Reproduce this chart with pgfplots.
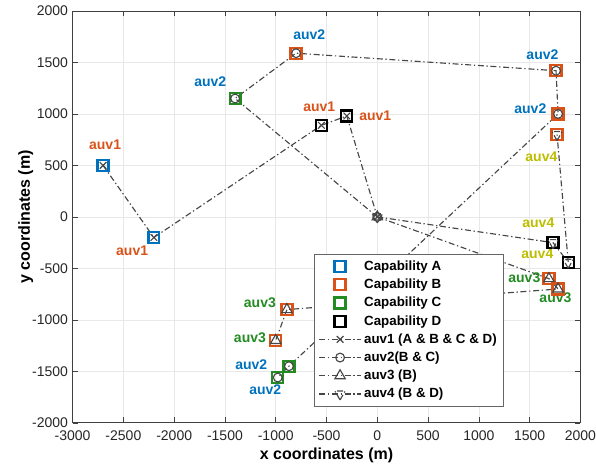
\documentclass[border=0pt]{standalone}
\usepackage{fontspec}
\setmainfont{Liberation Sans}
\usepackage{pgfplots}
\pgfplotsset{compat=1.18}
\definecolor{mblue}{RGB}{0,114,189}
\definecolor{morange}{RGB}{217,83,25}
\definecolor{mgreen}{RGB}{34,139,34}
\definecolor{myellow}{RGB}{190,190,0}
\definecolor{pathgray}{RGB}{70,70,70}
\pgfplotsset{
  mylegimg/.style={legend image code/.code={\draw[mark repeat=2,mark phase=2,##1] plot coordinates {(0cm,0cm)(0.55cm,0cm)(1.1cm,0cm)};}},
  capsq/.style={only marks, mark=square, mark size=4.1pt, line width=1.7pt, mylegimg},
  auvpath/.style={pathgray, line width=0.85pt, dash pattern=on 4.5pt off 2pt on 1pt off 2pt,
     mark options={solid, line width=0.85pt, pathgray}, mylegimg},
}
\begin{document}
\begin{tikzpicture}
\begin{axis}[
  width=381pt, height=309pt, scale only axis,
  xmin=-3000, xmax=2000, ymin=-2000, ymax=2000,
  xtick={-3000,-2500,...,2000}, ytick={-2000,-1500,...,2000},
  scaled ticks=false,
  /pgf/number format/assume math mode=true,
  /pgf/number format/1000 sep={},
  tick label style={font=\fontsize{10.5}{12}\selectfont, text=black!85},
  xticklabel style={yshift=-2.5pt, inner xsep=0pt},
  grid=major, grid style={gray!18, line width=0.5pt},
  tick align=inside, major tick length=4pt,
  axis line style={black!75, line width=0.6pt},
  every tick/.style={black!75},
  xlabel={\bfseries x coordinates (m)},
  ylabel={\bfseries y coordinates (m)},
  label style={font=\fontsize{12}{14}\selectfont},
  xlabel style={at={(axis description cs:0.5,-0.078)}, anchor=center},
  ylabel style={at={(axis description cs:-0.0925,0.5)}, anchor=center},
  mylegimg,
  legend style={at={(rel axis cs:0.476,0.039)}, anchor=south west,
     font=\bfseries\fontsize{10}{12}\selectfont, draw=black!60, fill=white,
     line width=0.5pt, row sep=0.9pt, inner xsep=3pt, inner ysep=3pt},
  legend cell align=left,
]
\addplot[capsq, mblue] coordinates {(-2700,500) (-2200,-200)};
\addlegendentry{Capability A}
\addplot[capsq, morange] coordinates {(-800,1590) (1760,1420) (1780,1000) (1770,800) (1690,-600) (1780,-700) (-890,-900) (-1000,-1200)};
\addlegendentry{Capability B}
\addplot[capsq, mgreen] coordinates {(-1400,1150) (-870,-1450) (-980,-1560)};
\addlegendentry{Capability C}
\addplot[capsq, black] coordinates {(-550,890) (-300,980) (1730,-250) (1880,-440)};
\addlegendentry{Capability D}
\addplot[auvpath, mark=x, mark size=3.5pt] coordinates {(-2700,500) (-2200,-200) (-550,890) (-300,980) (0,0)};
\addlegendentry{auv1 (A \& B \& C \& D)}
\addplot[auvpath, mark=o, mark size=3.3pt] coordinates {(0,0) (-1400,1150) (-800,1590) (1760,1420) (1780,1000) (-870,-1450) (-980,-1560)};
\addlegendentry{auv2(B \& C)}
\addplot[auvpath, mark=triangle, mark size=4.5pt] coordinates {(0,0) (1690,-600) (1780,-700) (-890,-900) (-1000,-1200)};
\addlegendentry{auv3 (B)}
\addplot[auvpath, mark=triangle, mark options={rotate=180}, mark size=4.5pt] coordinates {(0,0) (1730,-250) (1880,-440) (1770,800)};
\addlegendentry{auv4 (B \& D)}
\begin{scope}[every node/.style={font=\bfseries\fontsize{10.5}{12}\selectfont}]
\node[text=morange] at (axis cs:-2680,700) {auv1};
\node[text=morange] at (axis cs:-2414,-330) {auv1};
\node[text=morange] at (axis cs:-571,1068) {auv1};
\node[text=morange] at (axis cs:-20,981) {auv1};
\node[text=mblue] at (axis cs:-670,1767) {auv2};
\node[text=mblue] at (axis cs:-1645,1311) {auv2};
\node[text=mblue] at (axis cs:1626,1573) {auv2};
\node[text=mblue] at (axis cs:1507,1049) {auv2};
\node[text=mblue] at (axis cs:-1241,-1437) {auv2};
\node[text=mblue] at (axis cs:-1103,-1680) {auv2};
\node[text=myellow] at (axis cs:1616,583) {auv4};
\node[text=myellow] at (axis cs:1586,-58) {auv4};
\node[text=myellow] at (axis cs:1576,-359) {auv4};
\node[text=mgreen] at (axis cs:1448,-592) {auv3};
\node[text=mgreen] at (axis cs:1754,-786) {auv3};
\node[text=mgreen] at (axis cs:-1156,-837) {auv3};
\node[text=mgreen] at (axis cs:-1254,-1178) {auv3};
\end{scope}
\coordinate (bbbl) at (rel axis cs:-0.1430,-0.1286);
\coordinate (bbtr) at (rel axis cs:1.0307,1.0267);
\end{axis}
\path (bbbl) rectangle (bbtr);
\end{tikzpicture}
\end{document}
